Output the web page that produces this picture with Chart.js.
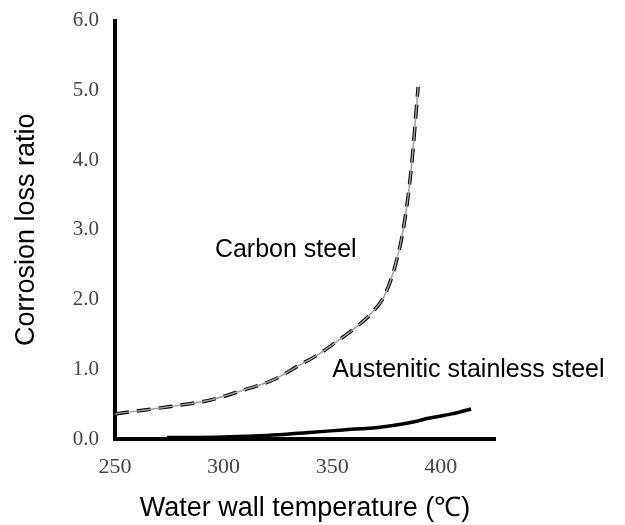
<!DOCTYPE html>
<html>
<head>
<meta charset="utf-8">
<script src="https://cdn.jsdelivr.net/npm/chart.js@4"></script>
<style>
  html, body { margin: 0; padding: 0; background: #fff; }
</style>
</head>
<body>
<canvas id="grafica" width="625" height="525"></canvas>
<script>
// valores
const carbonTemp = [250, 274, 294, 309, 323, 335, 343, 350, 360, 368, 374, 379, 383, 386.5, 389.6];
const carbonLoss = [0.36, 0.46, 0.56, 0.70, 0.85, 1.06, 1.20, 1.35, 1.58, 1.80, 2.05, 2.48, 3.05, 3.90, 5.05];

const austTemp = [274, 300, 320, 338, 355, 372, 385, 395, 405, 414];
const austLoss = [0.02, 0.03, 0.05, 0.09, 0.13, 0.17, 0.23, 0.30, 0.36, 0.43];

const xTicks = [250, 300, 350, 400];
const yTicks = [0, 1, 2, 3, 4, 5, 6];

const curveNames = ['Carbon steel', 'Austenitic stainless steel'];
const nameTemp = [296, 350];
const nameLoss = [2.71, 0.99];

function puntos(xs, ys) {
    return xs.map((x, i) => ({ x: x, y: ys[i] }));
}

// escribe los nombres de las curvas dentro del area
const etiquetas = {
    id: 'etiquetas',
    afterDatasetsDraw(chart) {
        const ctx = chart.ctx;
        const sx = chart.scales.x, sy = chart.scales.y;
        ctx.save();
        ctx.font = '25px "Liberation Sans", Arial, sans-serif';
        ctx.fillStyle = '#000';
        ctx.textAlign = 'left';
        ctx.textBaseline = 'middle';
        curveNames.forEach((t, i) => {
            ctx.fillText(t, sx.getPixelForValue(nameTemp[i]), sy.getPixelForValue(nameLoss[i]));
        });
        ctx.restore();
    }
};

const serif = { family: '"Liberation Serif", "Times New Roman", serif' };
const sans = '"Liberation Sans", Arial, sans-serif';

new Chart(document.getElementById('grafica'), {
    type: 'line',
    data: {
        datasets: [
            {
                label: 'Carbon steel (fondo)',
                data: puntos(carbonTemp, carbonLoss),
                borderColor: '#a0a0a0',
                borderWidth: 1.5,
                pointRadius: 0,
                cubicInterpolationMode: 'monotone'
            },
            {
                label: 'Carbon steel',
                data: puntos(carbonTemp, carbonLoss),
                borderColor: '#000',
                borderWidth: 3.5,
                borderDash: [14, 8],
                pointRadius: 0,
                cubicInterpolationMode: 'monotone'
            },
            {
                label: 'Austenitic stainless steel',
                data: puntos(austTemp, austLoss),
                borderColor: '#000',
                borderWidth: 3.5,
                pointRadius: 0,
                cubicInterpolationMode: 'monotone'
            }
        ]
    },
    options: {
        responsive: false,
        animation: false,
        layout: { padding: { top: 20, right: 130, left: 0, bottom: 0 } },
        plugins: {
            legend: { display: false },
            tooltip: { enabled: false }
        },
        scales: {
            x: {
                type: 'linear',
                min: 250,
                max: 425,
                afterBuildTicks: s => { s.ticks = xTicks.map(v => ({ value: v })); },
                afterFit: s => { s.height = 86; },
                grid: { display: false },
                border: { color: '#000', width: 4 },
                ticks: {
                    color: '#444',
                    font: { ...serif, size: 22 },
                    padding: 7,
                    maxRotation: 0
                },
                title: {
                    display: true,
                    text: 'Water wall temperature (\u2103)',
                    color: '#000',
                    font: { family: sans, size: 27 },
                    padding: { top: 0, bottom: 0 }
                }
            },
            y: {
                min: 0,
                max: 6,
                afterBuildTicks: s => { s.ticks = yTicks.map(v => ({ value: v })); },
                afterFit: s => { s.width = 115; },
                grid: { display: false },
                border: { color: '#000', width: 4 },
                ticks: {
                    color: '#444',
                    font: { ...serif, size: 21 },
                    padding: 8,
                    callback: v => v.toFixed(1)
                },
                title: {
                    display: true,
                    text: 'Corrosion loss ratio',
                    color: '#000',
                    font: { family: sans, size: 27 },
                    padding: { top: 10, bottom: 0 }
                }
            }
        }
    },
    plugins: [etiquetas]
});
</script>
</body>
</html>
